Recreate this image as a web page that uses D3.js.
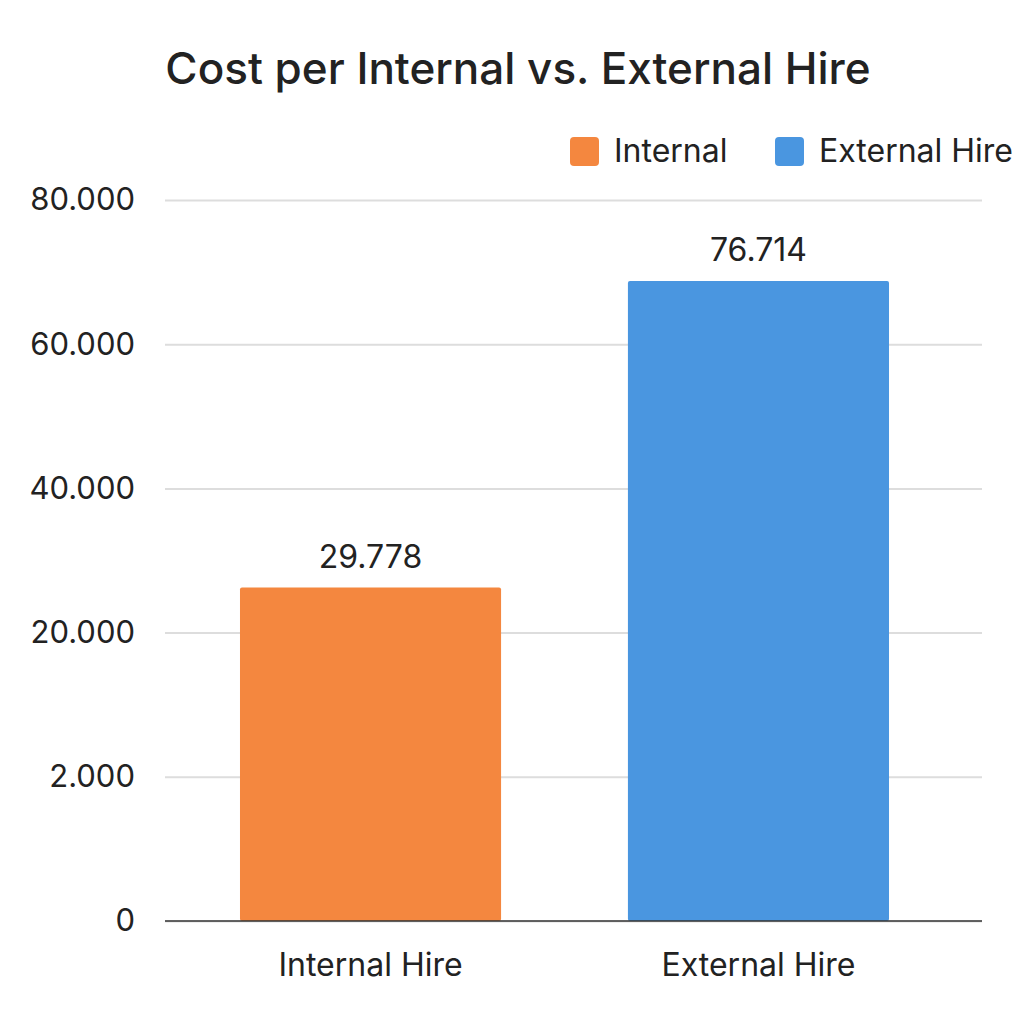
<!DOCTYPE html>
<html><head><meta charset="utf-8">
<script src="https://cdn.jsdelivr.net/npm/d3@7"></script>
<style>body{margin:0;background:#fff}text{font-family:Inter,"Noto Sans",sans-serif}</style>
</head><body><svg id="c" width="1024" height="1024"></svg>
<script>
const categories = ["Internal Hire", "External Hire"];
const seriesNames = ["Internal", "External Hire"];
const barValues = [46250, 88750];          // heights as drawn in the picture
const valueLabels = ["29.778", "76.714"];  // labels as printed
const tickValues = [0, 20000, 40000, 60000, 80000, 100000];
const tickLabels = ["0", "2.000", "20.000", "40.000", "60.000", "80.000"];
const colors = ["#F4873F", "#4A96E0"];

const svg = d3.select("#c");
const L = 165, R = 982, T = 200, B = 921;
const x = d3.scaleBand().domain(categories).range([162.4, 966.6]).paddingInner(0.327).paddingOuter(0.2);
const y = d3.scaleLinear().domain([0, 100000]).range([B, T]);

svg.append("text").attr("x", 518).attr("y", 84).attr("text-anchor", "middle")
  .attr("font-size", 44).attr("font-weight", 500).attr("fill", "#222").text("Cost per Internal vs. External Hire");

const yAxis = svg.append("g").attr("transform", `translate(${L},0)`)
  .call(d3.axisLeft(y).tickValues(tickValues).tickFormat((d, i) => tickLabels[i]).tickSize(-(R - L)));
yAxis.select(".domain").remove();
yAxis.selectAll("line").attr("stroke", "#ddd").attr("stroke-width", 2);
yAxis.selectAll("text").attr("x", -30).attr("font-size", 31).attr("fill", "#222");

svg.selectAll("rect.bar").data(categories).join("rect").attr("class", "bar")
  .attr("x", d => x(d)).attr("width", x.bandwidth())
  .attr("y", (d, i) => y(barValues[i])).attr("height", (d, i) => B - y(barValues[i]))
  .attr("fill", (d, i) => colors[i]).attr("rx", 2);

svg.selectAll("text.val").data(categories).join("text").attr("class", "val")
  .attr("x", d => x(d) + x.bandwidth() / 2).attr("y", (d, i) => y(barValues[i]) - 20)
  .attr("text-anchor", "middle").attr("font-size", 32).attr("fill", "#222").text((d, i) => valueLabels[i]);

svg.append("line").attr("x1", L).attr("x2", R).attr("y1", B).attr("y2", B).attr("stroke", "#333").attr("stroke-width", 1.5);

svg.selectAll("text.cat").data(categories).join("text").attr("class", "cat")
  .attr("x", d => x(d) + x.bandwidth() / 2).attr("y", 976).attr("text-anchor", "middle")
  .attr("font-size", 32).attr("fill", "#222").text(d => d);

const legX = [570, 775];
seriesNames.forEach((n, i) => {
  svg.append("rect").attr("x", legX[i]).attr("y", 137).attr("width", 29).attr("height", 29).attr("rx", 4).attr("fill", colors[i]);
  svg.append("text").attr("x", legX[i] + 44).attr("y", 162).attr("font-size", 32).attr("fill", "#222").text(n);
});
</script></body></html>
